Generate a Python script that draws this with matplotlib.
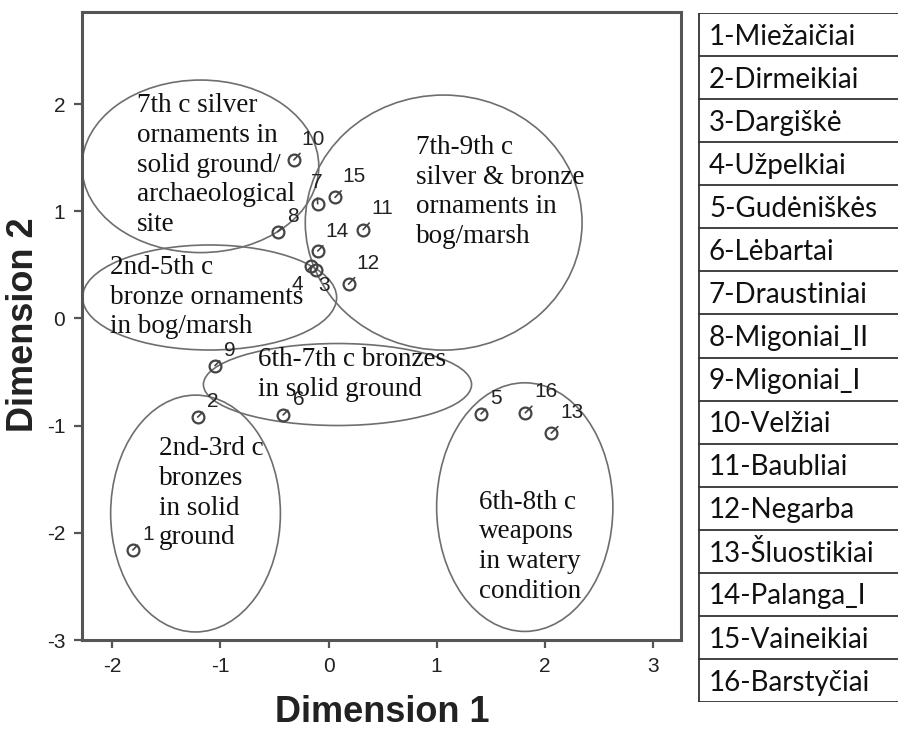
import matplotlib
matplotlib.use("Agg")
import matplotlib.pyplot as plt
from matplotlib.patches import Ellipse

plt.rcParams["axes.unicode_minus"] = False

# --- MDS coordinates of the 16 sites ---
site_ids = list(range(1, 17))
dim1 = [-1.81, -1.21, -0.12, -0.16, 1.41, -0.42, -0.10, -0.47,
        -1.05, -0.32, 0.32, 0.185, 2.06, -0.10, 0.06, 1.82]
dim2 = [-2.16, -0.92, 0.45, 0.49, -0.89, -0.90, 1.07, 0.81,
        -0.44, 1.48, 0.83, 0.32, -1.07, 0.63, 1.13, -0.88]
site_names = ["Miežaičiai", "Dirmeikiai", "Dargiškė", "Užpelkiai", "Gudėniškės",
              "Lėbartai", "Draustiniai", "Migoniai_II", "Migoniai_I", "Velžiai",
              "Baubliai", "Negarba", "Šluostikiai", "Palanga_I", "Vaineikiai",
              "Barstyčiai"]

# --- groups: ellipse (cx, cy, width, height) and caption ---
group_ellipses = [(-1.185, 1.42, 2.19, 1.61),
                  (1.065, 0.895, 2.56, 2.38),
                  (-1.10, 0.196, 2.35, 0.98),
                  (0.083, -0.616, 2.48, 0.765),
                  (-1.23, -1.82, 1.57, 2.21),
                  (1.815, -1.76, 1.63, 2.32)]
group_captions = ["7th c silver\nornaments in\nsolid ground/\narchaeological\nsite",
                  "7th-9th c\nsilver & bronze\nornaments in\nbog/marsh",
                  "2nd-5th c\nbronze ornaments\nin bog/marsh",
                  "6th-7th c bronzes\nin solid ground",
                  "2nd-3rd c\nbronzes\nin solid\nground",
                  "6th-8th c\nweapons\nin watery\ncondition"]
caption_anchor = [(-1.77, 1.43), (0.81, 1.18), (-2.02, 0.20),
                  (-0.65, -0.52), (-1.57, -1.63), (1.39, -2.13)]

# label offsets (points) of each point number relative to its marker
label_offset = {i: (11, 11) for i in site_ids}
label_offset.update({10: (14, 15), 11: (14, 15), 12: (14, 15), 13: (15, 15),
                     14: (14, 14), 15: (14, 15), 16: (15, 15),
                     7: (-1, 15), 4: (-10, -13), 3: (6, -11)})

GRID = "#555555"

fig = plt.figure(figsize=(8.98, 7.32), dpi=100)
ax = fig.add_axes([82 / 898, 1 - 640 / 732, 599 / 898, 628 / 732])

for (cx, cy, w, h) in group_ellipses:
    ax.add_patch(Ellipse((cx, cy), w, h, fill=False, edgecolor="#6e6e6e", lw=1.2))

for txt, (tx, ty) in zip(group_captions, caption_anchor):
    ax.text(tx, ty, txt, ha="left", va="center", fontsize=19.5,
            family="Liberation Serif", linespacing=1.25, color="#111111")

ax.plot(dim1, dim2, linestyle="none", marker="o", markersize=8.5,
        markerfacecolor="none", markeredgecolor="#444444", markeredgewidth=1.6)

for sid, x, y in zip(site_ids, dim1, dim2):
    ax.annotate(str(sid), xy=(x, y), xytext=label_offset[sid], textcoords="offset points",
                ha="center", va="center", fontsize=15, family="Liberation Sans",
                color="#222222",
                arrowprops=dict(arrowstyle="-", color="#444444", lw=1.2,
                                shrinkA=2, shrinkB=0))

ax.set_xlim(-2.28, 3.26)
ax.set_ylim(-3, 2.86)
ax.set_xticks(range(-2, 4))
ax.set_yticks(range(-3, 3))
for sp in ax.spines.values():
    sp.set_color(GRID)
    sp.set_linewidth(2.2)
ax.tick_params(direction="out", length=6, width=1.6, color=GRID,
               labelsize=15, labelcolor="#222222", pad=6)
for lab in ax.get_xticklabels() + ax.get_yticklabels():
    lab.set_family("Liberation Sans")

fig.text(382 / 898, 1 - 713 / 732, "Dimension 1", ha="center", va="center",
         fontsize=26, fontweight="bold", family="Liberation Sans", color="#222222")
fig.text(24 / 898, 1 - 325 / 732, "Dimension 2", ha="center", va="center",
         rotation=90, fontsize=26, fontweight="bold", family="Liberation Sans",
         color="#222222")

# --- site name table on the right ---
tab = fig.add_axes([698 / 898, 1 - 702 / 732, 200 / 898, 689 / 732])
tab.set_xlim(0, 1)
tab.set_ylim(len(site_names), 0)
tab.axis("off")
tab.hlines(range(len(site_names) + 1), 0, 1, color="#333333", lw=1.3)
tab.vlines(0.005, 0, len(site_names), color="#333333", lw=1.3)
for i, (sid, name) in enumerate(zip(site_ids, site_names)):
    tab.text(0.055, i + 0.55, f"{sid}-{name}", ha="left", va="center",
             fontsize=20, family=["Lato", "DejaVu Sans"], color="#111111")

fig.savefig("out.png", dpi=100)
